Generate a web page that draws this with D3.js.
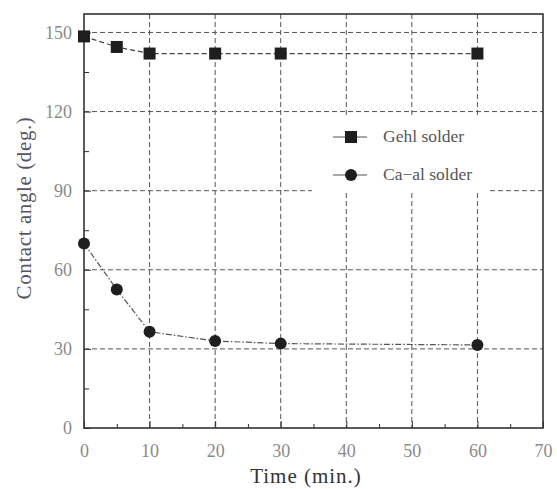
<!DOCTYPE html>
<html>
<head>
<meta charset="utf-8">
<script src="https://d3js.org/d3.v7.min.js"></script>
<style>
  body { margin: 0; background: #fff; }
  svg text { font-family: "Liberation Serif", "DejaVu Serif", serif; }
</style>
</head>
<body>
<div id="chart"></div>
<script>
// data
const times = [0, 5, 10, 20, 30, 60];
const gehl = [148.5, 144.5, 142, 142, 142, 142];
const caal = [70, 52.5, 36.5, 33, 32, 31.5];
const seriesNames = ['Gehl solder', 'Ca\u2212al solder'];
const xTicks = [0, 10, 20, 30, 40, 50, 60, 70];
const yTicks = [0, 30, 60, 90, 120, 150];

const W = 557, H = 489;
const margin = { top: 14, right: 14, bottom: 61, left: 84 };
const width = W - margin.left - margin.right;
const height = H - margin.top - margin.bottom;

const svg = d3.select('#chart').append('svg')
    .attr('width', W)
    .attr('height', H);

const g = svg.append('g')
    .attr('transform', `translate(${margin.left},${margin.top})`);

const x = d3.scaleLinear().domain([0, 70]).range([0, width]);
const y = d3.scaleLinear().domain([0, 157]).range([height, 0]);

// legend box area (grid is hidden behind it)
const legBox = { x0: 228, x1: 406, y0: 104, y1: 179 };

// grid
const grid = g.append('g').attr('class', 'grid');
yTicks.filter(d => d > 0).forEach(d => {
    const yy = y(d);
    const segs = (yy > legBox.y0 && yy < legBox.y1)
        ? [[0, legBox.x0], [legBox.x1, width]] : [[0, width]];
    segs.forEach(s => grid.append('line')
        .attr('x1', s[0]).attr('x2', s[1])
        .attr('y1', yy).attr('y2', yy)
        .attr('stroke', '#555').attr('stroke-width', 1)
        .attr('stroke-dasharray', '5,3'));
});
xTicks.filter(d => d > 0 && d < 70).forEach(d => {
    const xx = x(d);
    const segs = (xx > legBox.x0 && xx < legBox.x1)
        ? [[0, legBox.y0], [legBox.y1, height]] : [[0, height]];
    segs.forEach(s => grid.append('line')
        .attr('x1', xx).attr('x2', xx)
        .attr('y1', s[0]).attr('y2', s[1])
        .attr('stroke', '#555').attr('stroke-width', 1)
        .attr('stroke-dasharray', '5,3'));
});

// axes with inward ticks
const xAxis = g.append('g')
    .attr('transform', `translate(0,${height})`)
    .call(d3.axisBottom(x).tickValues(xTicks).tickSize(-7).tickPadding(16));
const xMinor = g.append('g')
    .attr('transform', `translate(0,${height})`)
    .call(d3.axisBottom(x).tickValues(d3.range(5, 70, 10)).tickSize(-4).tickFormat(''));
const yAxis = g.append('g')
    .call(d3.axisLeft(y).tickValues(yTicks).tickSize(-7).tickPadding(12));
const yMinor = g.append('g')
    .call(d3.axisLeft(y).tickValues(d3.range(15, 157, 30)).tickSize(-5).tickFormat(''));

[xAxis, xMinor, yAxis, yMinor].forEach(a => {
    a.select('.domain').remove();
    a.selectAll('line').attr('stroke', '#333').attr('stroke-width', 1);
    a.selectAll('text')
        .attr('fill', '#8a8a8a')
        .style('font-size', '18px');
});

// frame
g.append('rect')
    .attr('x', 0).attr('y', 0)
    .attr('width', width).attr('height', height)
    .attr('fill', 'none')
    .attr('stroke', '#333')
    .attr('stroke-width', 1.6);

// series
const line = d3.line().x(d => x(d[0])).y(d => y(d[1]));
const gehlData = times.map((t, i) => [t, gehl[i]]);
const caalData = times.map((t, i) => [t, caal[i]]);

g.append('path').datum(gehlData)
    .attr('d', line).attr('fill', 'none')
    .attr('stroke', '#444').attr('stroke-width', 1.2)
    .attr('stroke-dasharray', '5,3');
g.append('path').datum(caalData)
    .attr('d', line).attr('fill', 'none')
    .attr('stroke', '#555').attr('stroke-width', 1.2)
    .attr('stroke-dasharray', '6,2,1.5,2');

g.selectAll('.sq').data(gehlData).enter().append('rect')
    .attr('x', d => x(d[0]) - 6).attr('y', d => y(d[1]) - 6)
    .attr('width', 12).attr('height', 12)
    .attr('fill', '#1e1e1e');
g.selectAll('.dot').data(caalData).enter().append('circle')
    .attr('cx', d => x(d[0])).attr('cy', d => y(d[1]))
    .attr('r', 6)
    .attr('fill', '#1e1e1e');

// legend
const leg = g.append('g');
const legY = [123, 161];
legY.forEach((ly, i) => {
    leg.append('line')
        .attr('x1', 249).attr('x2', 283)
        .attr('y1', ly).attr('y2', ly)
        .attr('stroke', '#555').attr('stroke-width', 1.2);
    if (i === 0) {
        leg.append('rect').attr('x', 261).attr('y', ly - 6)
            .attr('width', 12).attr('height', 12).attr('fill', '#1e1e1e');
    } else {
        leg.append('circle').attr('cx', 267).attr('cy', ly)
            .attr('r', 6).attr('fill', '#1e1e1e');
    }
    leg.append('text')
        .attr('x', 299).attr('y', ly + 5)
        .attr('fill', '#555')
        .style('font-size', '17.5px')
        .text(seriesNames[i]);
});

// axis titles
svg.append('text')
    .attr('x', 306).attr('y', 483)
    .attr('text-anchor', 'middle')
    .attr('fill', '#333')
    .style('font-size', '21px')
    .style('letter-spacing', '1px')
    .text('Time (min.)');
svg.append('text')
    .attr('transform', `translate(31,${208}) rotate(-90)`)
    .attr('text-anchor', 'middle')
    .attr('fill', '#556')
    .style('font-size', '21px')
    .style('letter-spacing', '0.6px')
    .text('Contact angle (deg.)');
</script>
</body>
</html>
